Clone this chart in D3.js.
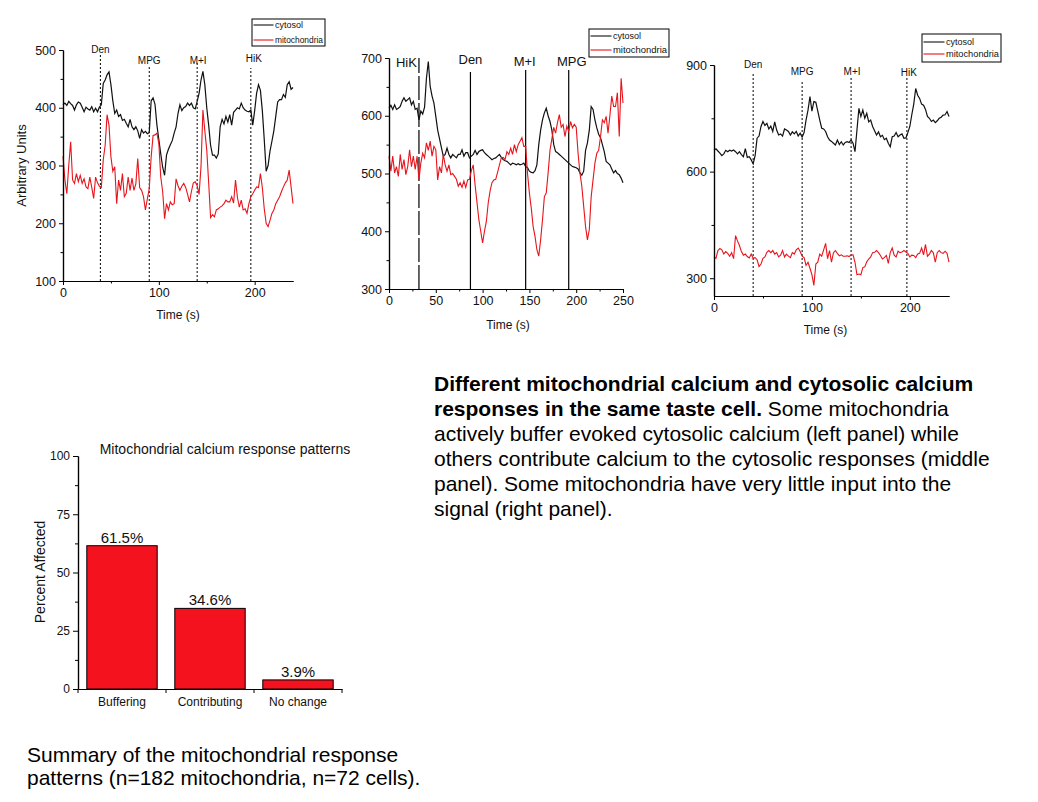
<!DOCTYPE html>
<html><head><meta charset="utf-8">
<script src="https://cdn.jsdelivr.net/npm/d3@7"></script>
<style>
body{margin:0;background:#fff;}
svg{display:block;font-family:"Liberation Sans",Arial,sans-serif;}
</style></head><body>
<svg id="chart" width="1038" height="802"></svg>
<script>
// ---------------- DATA ----------------
const sampleStep = 2; // seconds between recorded samples

// Left panel (mitochondria buffer)
const leftCytosol = [405,408,404,411,407,404,396,405,410,408,401,393,401,398,396,402,393,399,393,401,
  405,442,448,457,462,440,412,390,396,385,388,378,380,373,367,380,367,362,367,360,
  347,362,356,359,355,357,412,417,406,370,345,320,297,283,318,328,336,343,356,367,
  390,405,395,400,402,408,404,408,400,398,411,425,448,463,440,400,370,335,318,318,
  313,320,367,380,372,385,375,388,370,392,396,400,398,408,400,396,394,393,396,370,
  395,425,440,430,395,345,290,300,325,342,360,385,410,414,414,423,418,440,445,432,435];
const leftMito = [316,275,251,300,341,275,269,286,272,283,269,277,263,260,280,262,243,280,270,264,
  262,310,335,388,370,315,290,298,234,275,257,286,246,252,280,257,278,257,268,312,
  262,257,246,223,242,260,315,352,353,356,338,280,255,208,234,223,237,232,234,277,
  265,257,264,269,262,250,237,255,270,272,265,250,298,396,360,327,270,210,215,211,
  223,225,228,230,234,240,237,237,246,235,275,245,228,240,223,225,217,234,246,251,
  257,263,262,286,262,225,200,194,205,217,223,234,240,246,255,263,270,275,292,263,234];
const leftEventNames = ["Den","MPG","M+I","HiK"];
const leftEventTimes = [39,90,140,196];

// Middle panel (mitochondria contribute)
const midCytosol = [613,618,611,619,611,613,616,625,631,625,628,631,619,625,611,613,593,608,603,615,
  665,694,651,634,622,599,575,560,545,530,533,544,533,527,533,530,527,533,533,541,
  530,536,536,527,530,533,540,533,538,540,541,536,533,530,527,524,526,527,530,533,
  528,524,522,521,518,515,518,517,515,517,515,516,518,512,510,504,502,501,505,515,
  550,575,593,605,613,600,590,575,550,538,536,533,530,527,524,521,518,515,512,511,
  510,508,501,497,504,540,553,575,616,611,593,579,568,562,550,538,521,518,515,508,501,505,500,498,492,484];
const midMito = [530,504,530,501,512,495,533,507,524,498,512,541,512,530,507,530,489,518,535,527,
  553,540,556,530,547,541,489,512,501,533,515,504,515,498,500,495,490,478,484,476,
  487,476,489,490,505,515,480,450,420,400,380,400,417,449,470,484,489,490,502,515,
  527,528,524,538,533,544,533,550,538,550,556,562,547,547,500,466,440,408,391,368,
  357,385,420,460,466,501,540,560,580,570,588,602,580,585,564,582,573,590,579,585,
  580,535,501,478,443,408,385,403,460,489,518,535,540,564,593,588,599,570,600,634,616,616,640,564,665,622];
const midEventNames = ["HiK","Den","M+I","MPG"];
const midEventTimes = [32,87,146,192];

// Right panel (little input)
const rightCytosol = [660,664,658,652,645,650,660,656,660,658,661,656,650,656,648,642,665,640,642,633,
  622,645,694,700,727,741,730,736,720,728,713,740,717,703,706,700,720,717,713,703,
  712,706,713,700,708,697,710,745,773,811,770,797,795,770,745,722,720,713,698,689,
  685,680,675,689,676,684,675,682,684,682,689,680,656,717,778,755,773,750,764,740,
  745,727,715,703,712,698,702,690,694,680,670,698,700,710,698,703,706,694,695,710,
  727,760,790,834,815,806,790,787,775,755,750,741,745,738,743,750,753,759,760,769,755];
const rightMito = [360,356,378,384,380,368,375,370,362,372,355,420,405,392,375,365,368,361,357,368,
  356,358,352,333,340,356,360,373,378,372,378,368,372,360,365,378,360,368,362,358,
  372,368,380,385,375,362,358,336,345,328,310,280,340,345,368,362,380,398,355,378,
  345,372,378,370,363,366,362,362,363,361,365,366,345,310,312,310,330,332,346,354,
  360,372,373,378,372,364,354,358,364,342,372,385,365,360,376,372,374,378,374,370,
  360,365,364,358,368,370,385,366,395,362,368,378,372,345,372,378,372,370,376,370,345];
const rightEventNames = ["Den","MPG","M+I","HiK"];
const rightEventTimes = [40,90,140,197];

const seriesNames = ["cytosol","mitochondria"];

// Summary bar chart
const barCategories = ["Buffering","Contributing","No change"];
const barValues = [61.5, 34.6, 3.9];
const barTicks = [0,25,50,75,100];
const barMinorTicks = [12.5,37.5,62.5,87.5];

// Axis tick values
const leftYTicks = [100,200,300,400,500], leftYMinor = [150,250,350,450];
const leftXTicks = [0,100,200], leftXMinor = [50,150];
const midYTicks = [300,400,500,600,700], midYMinor = [350,450,550,650];
const midXTicks = [0,50,100,150,200,250], midXMinor = [25,75,125,175,225];
const rightYTicks = [300,600,900], rightYMinor = [450,750];
const rightXTicks = [0,100,200], rightXMinor = [50,150];

// ---------------- DRAWING ----------------
const svg = d3.select("#chart");
const BLACK = "#111", RED = "#e8141c";

function drawPanel(p) {
  const g = svg.append("g");
  const x = d3.scaleLinear().domain(p.xDomain).range(p.xRange);
  const y = d3.scaleLinear().domain(p.yDomain).range(p.yRange);

  // event markers
  p.eventTimes.forEach((t, i) => {
    g.append("line")
      .attr("x1", x(t)).attr("x2", x(t))
      .attr("y1", p.yRange[0]).attr("y2", p.eventTop[i])
      .attr("stroke", "#000").attr("stroke-width", p.eventWidth)
      .attr("stroke-dasharray", p.eventDash[i]);
    g.append("text")
      .attr("x", x(t) + p.labelDx[i]).attr("y", p.labelY[i])
      .attr("text-anchor", p.labelAnchor[i])
      .attr("font-size", p.labelSize)
      .attr("fill", "#111")
      .text(p.eventNames[i]);
  });

  const line = d3.line().x((d, i) => x(i * sampleStep)).y(d => y(d));
  g.append("path").datum(p.cytosol).attr("d", line)
    .attr("fill", "none").attr("stroke", BLACK).attr("stroke-width", 1.2);
  g.append("path").datum(p.mito).attr("d", line)
    .attr("fill", "none").attr("stroke", RED).attr("stroke-width", 1.1);

  // axes
  g.append("g").attr("transform", `translate(${p.xRange[0]},0)`)
    .call(d3.axisLeft(y).tickValues(p.yTicks).tickSize(4).tickSizeOuter(0).tickPadding(3));
  g.append("g").attr("transform", `translate(${p.xRange[0]},0)`)
    .call(d3.axisLeft(y).tickValues(p.yMinor).tickSize(2.5).tickSizeOuter(0).tickFormat(""));
  g.append("g").attr("transform", `translate(0,${p.yRange[0]})`)
    .call(d3.axisBottom(x).tickValues(p.xTicks).tickSize(4).tickSizeOuter(0).tickPadding(3));
  g.append("g").attr("transform", `translate(0,${p.yRange[0]})`)
    .call(d3.axisBottom(x).tickValues(p.xMinor).tickSize(2.5).tickSizeOuter(0).tickFormat(""));
  g.selectAll(".domain").attr("stroke", "#000").attr("stroke-width", 1.2);
  g.selectAll(".tick line").attr("stroke", "#000");
  g.selectAll(".tick text").attr("font-size", 12.5).attr("fill", "#111")
    .attr("font-family", '"Liberation Sans",Arial,sans-serif');

  // axis titles
  g.append("text").attr("x", (p.xRange[0] + p.xRange[1]) / 2 + p.xTitleDx).attr("y", p.xTitleY)
    .attr("text-anchor", "middle").attr("font-size", 12).attr("fill", "#111").text("Time (s)");
  if (p.yTitle) {
    g.append("text").attr("transform", `translate(${p.yTitleX},${(p.yRange[0] + p.yRange[1]) / 2}) rotate(-90)`)
      .attr("text-anchor", "middle").attr("font-size", 13).attr("fill", "#111").text(p.yTitle);
  }

  // legend
  const L = p.legend;
  const lg = g.append("g");
  lg.append("rect").attr("x", L.x).attr("y", L.y).attr("width", L.w).attr("height", L.h)
    .attr("fill", "#fff").attr("stroke", "#000").attr("stroke-width", 1);
  seriesNames.forEach((name, i) => {
    const cy = L.y + L.rowY[i];
    lg.append("line").attr("x1", L.x + 1.5).attr("x2", L.x + 1.5 + L.sample)
      .attr("y1", cy).attr("y2", cy).attr("stroke", i === 0 ? BLACK : RED).attr("stroke-width", 1.1);
    const tx = lg.append("text").attr("x", L.x + 3 + L.sample).attr("y", cy + 3.2)
      .attr("font-size", 9).attr("fill", "#111").text(name);
    if (i === 1) tx.attr("textLength", L.w - L.sample - 5).attr("lengthAdjust", "spacingAndGlyphs");
  });
}

drawPanel({
  xDomain: [0, 240], yDomain: [100, 500], xRange: [63, 293], yRange: [281, 50],
  cytosol: leftCytosol, mito: leftMito,
  eventNames: leftEventNames, eventTimes: leftEventTimes,
  eventTop: [53, 67, 63, 68], eventDash: ["2,2", "2,2", "2,2", "2,2"], eventWidth: 1,
  labelDx: [0, 0, 1, 3], labelY: [53, 64, 64, 62], labelAnchor: ["middle","middle","middle","middle"], labelSize: 10,
  yTicks: leftYTicks, yMinor: leftYMinor, xTicks: leftXTicks, xMinor: leftXMinor,
  xTitleDx: 0, xTitleY: 319, yTitle: "Arbitrary Units", yTitleX: 26,
  legend: { x: 252, y: 19, w: 73, h: 27, rowY: [6, 21], sample: 20 }
});

drawPanel({
  xDomain: [0, 250], yDomain: [300, 700], xRange: [389, 623], yRange: [289, 58],
  cytosol: midCytosol, mito: midMito,
  eventNames: midEventNames, eventTimes: midEventTimes,
  eventTop: [58, 72, 70, 70], eventDash: ["24,3", null, null, null], eventWidth: 1.2,
  labelDx: [-2, 0, -1, 3], labelY: [67, 64, 66, 66], labelAnchor: ["end","middle","middle","middle"], labelSize: 13,
  yTicks: midYTicks, yMinor: midYMinor, xTicks: midXTicks, xMinor: midXMinor,
  xTitleDx: 2, xTitleY: 329, yTitle: null,
  legend: { x: 589, y: 29, w: 80, h: 28, rowY: [7, 21], sample: 21 }
});

drawPanel({
  xDomain: [0, 240], yDomain: [250, 900], xRange: [714, 949], yRange: [296, 65],
  cytosol: rightCytosol, mito: rightMito,
  eventNames: rightEventNames, eventTimes: rightEventTimes,
  eventTop: [72, 80, 77, 78], eventDash: ["2,2", "2,2", "2,2", "2,2"], eventWidth: 1,
  labelDx: [0, 0, 1, 2], labelY: [68, 75, 75, 76], labelAnchor: ["middle","middle","middle","middle"], labelSize: 10,
  yTicks: rightYTicks, yMinor: rightYMinor, xTicks: rightXTicks, xMinor: rightXMinor,
  xTitleDx: -6, xTitleY: 334, yTitle: null,
  legend: { x: 922, y: 34, w: 79, h: 28, rowY: [8, 20], sample: 21 }
});

// ---- Bar chart ----
(function () {
  const g = svg.append("g");
  const x = d3.scaleBand().domain(barCategories).range([78, 342]).paddingInner(0.2).paddingOuter(0.1);
  const y = d3.scaleLinear().domain([0, 100]).range([689, 456]);

  g.selectAll("rect.bar").data(barValues).enter().append("rect")
    .attr("x", (d, i) => x(barCategories[i])).attr("width", x.bandwidth())
    .attr("y", d => y(d)).attr("height", d => y(0) - y(d))
    .attr("fill", "#f5121f").attr("stroke", "#000").attr("stroke-width", 1);

  g.selectAll("text.val").data(barValues).enter().append("text")
    .attr("x", (d, i) => x(barCategories[i]) + x.bandwidth() / 2)
    .attr("y", d => y(d) - 3)
    .attr("text-anchor", "middle").attr("font-size", 15).attr("fill", "#111")
    .text(d => d.toFixed(1) + "%");

  g.append("g").attr("transform", "translate(78,0)")
    .call(d3.axisLeft(y).tickValues(barTicks).tickSize(5).tickSizeOuter(0).tickPadding(3));
  g.append("g").attr("transform", "translate(78,0)")
    .call(d3.axisLeft(y).tickValues(barMinorTicks).tickSize(3).tickSizeOuter(0).tickFormat(""));
  g.append("g").attr("transform", "translate(0,689)")
    .call(d3.axisBottom(x).tickSize(0).tickSizeOuter(0).tickPadding(8));
  const bounds = d3.range(barCategories.length + 1).map(i => 78 + i * x.step());
  g.selectAll("line.sep").data(bounds).enter().append("line")
    .attr("x1", d => d).attr("x2", d => d).attr("y1", 689).attr("y2", 693)
    .attr("stroke", "#000");
  g.selectAll(".domain").attr("stroke", "#000").attr("stroke-width", 1.2);
  g.selectAll(".tick line").attr("stroke", "#000");
  g.selectAll(".tick text").attr("font-size", 12).attr("fill", "#111")
    .attr("font-family", '"Liberation Sans",Arial,sans-serif');

  g.append("text").attr("x", 225).attr("y", 454).attr("text-anchor", "middle")
    .attr("font-size", 14).attr("fill", "#111").text("Mitochondrial calcium response patterns");
  g.append("text").attr("transform", "translate(45,572) rotate(-90)")
    .attr("text-anchor", "middle").attr("font-size", 14).attr("fill", "#111").text("Percent Affected");
})();

// ---- Descriptive text ----
const para = svg.append("text").attr("font-size", 21).attr("fill", "#000");
const paraLines = [
  [["Different mitochondrial calcium and cytosolic calcium", true]],
  [["responses in the same taste cell.", true], [" Some mitochondria", false]],
  [["actively buffer evoked cytosolic calcium (left panel) while", false]],
  [["others contribute calcium to the cytosolic responses (middle", false]],
  [["panel). Some mitochondria have very little input into the", false]],
  [["signal (right panel).", false]]
];
paraLines.forEach((parts, li) => {
  parts.forEach((pt, pi) => {
    const ts = para.append("tspan").attr("font-weight", pt[1] ? "bold" : "normal").text(pt[0]);
    if (pi === 0) ts.attr("x", 434).attr("y", 391 + li * 25);
  });
});
const cap = svg.append("text").attr("font-size", 21).attr("fill", "#000");
["Summary of the mitochondrial response", "patterns (n=182 mitochondria, n=72 cells)."].forEach((s, i) => {
  cap.append("tspan").attr("x", 27).attr("y", 762 + i * 23).text(s);
});
</script>
</body></html>
